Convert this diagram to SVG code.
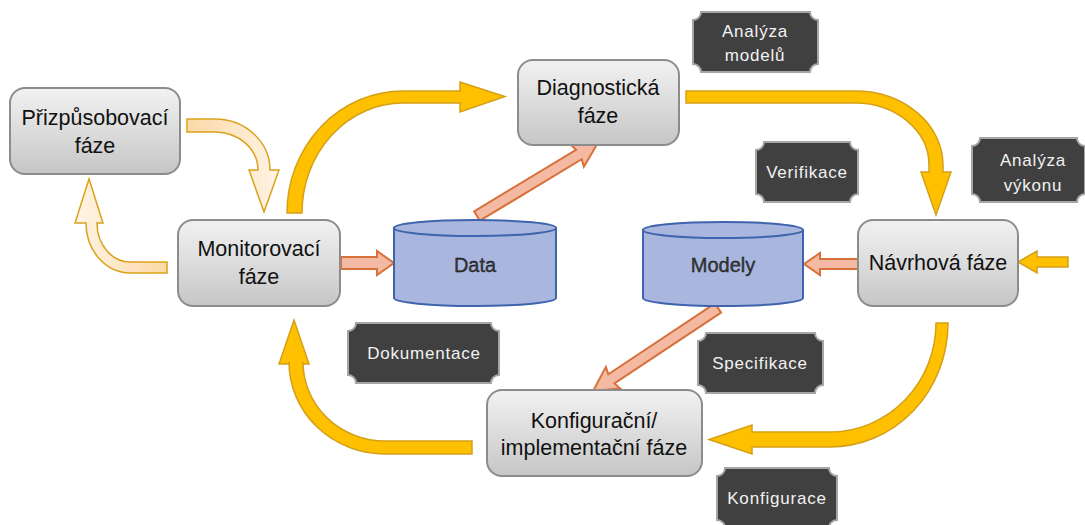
<svg xmlns="http://www.w3.org/2000/svg" width="1085" height="525" viewBox="0 0 1085 525">
<defs>
<linearGradient id="nodeGrad" x1="0" y1="0" x2="0" y2="1">
<stop offset="0" stop-color="#F2F2F2"/>
<stop offset="1" stop-color="#C6C6C6"/>
</linearGradient>
<linearGradient id="paleA" gradientUnits="userSpaceOnUse" x1="187" y1="0" x2="280" y2="0">
<stop offset="0" stop-color="#FCD8A6"/>
<stop offset="1" stop-color="#FFF4E6"/>
</linearGradient>
<linearGradient id="paleB" gradientUnits="userSpaceOnUse" x1="167" y1="0" x2="75" y2="0">
<stop offset="0" stop-color="#FCD8A6"/>
<stop offset="1" stop-color="#FFF4E6"/>
</linearGradient>
</defs>
<style>
.node{fill:url(#nodeGrad);stroke:#8C8C8C;stroke-width:2}
.ntxt{font-family:"Liberation Sans",Arial,sans-serif;font-size:21.5px;fill:#111;text-anchor:middle}
.tag{fill:#404040;stroke:#A6A6A6;stroke-width:2}
.ttxt{font-family:"Liberation Sans",Arial,sans-serif;font-size:17px;fill:#F2F2F2;text-anchor:middle;letter-spacing:0.8px}
.cyl{fill:#A9B6DE;stroke:#3F64AD;stroke-width:2}
.ctxt{font-family:"Liberation Sans",Arial,sans-serif;font-size:20px;fill:#3a3a3a;stroke:#000;stroke-width:0.3;text-anchor:middle}
.gold{fill:#FFC000;stroke:#D4A017;stroke-width:1.5;stroke-linejoin:miter}
.salmon{fill:#F4B9A2;stroke:#D8703A;stroke-width:2}
</style>

<g id="connectors">
<path class="gold" d="M287,213 A116,122 0 0 1 403,91 L460,91 L460,82 L505,96.5 L460,112 L460,103 L403,103 A101,110 0 0 0 302,213 Z"/>
<path class="gold" d="M686,91 L855,91 A88,74 0 0 1 943,165 L943,172 L951,172 L936,215 L921,172 L929,172 L929,165 A74,62 0 0 0 855,103 L686,103 Z"/>
<path class="gold" d="M936,323 L948,323 A118,124 0 0 1 830,447 L752,447 L752,454 L709,439.5 L752,425 L752,432 L830,432 A106,109 0 0 0 936,323 Z"/>
<path class="gold" d="M472,441 L385,441 A82,79 0 0 1 303,362 L303,364 L309,364 L294,320 L279,364 L289,364 L289,362 A96,92 0 0 0 385,454 L472,454 Z"/>
<path class="gold" d="M1068,257 L1037,257 L1037,251 L1018,262 L1037,273 L1037,267 L1068,267 Z"/>
<path fill="url(#paleA)" stroke="#D9A21B" stroke-width="1.5" d="M187,119 L215,119 A55,51 0 0 1 270,170 L279,170 L264,212 L249,170 L258,170 A43,38 0 0 0 215,132 L187,132 Z"/>
<path fill="url(#paleB)" stroke="#D9A21B" stroke-width="1.5" d="M167,262 L130,262 A33,39 0 0 1 97,223 L103,223 L89,179 L75,223 L86,223 A44,50 0 0 0 130,273 L167,273 Z"/>
<path class="salmon" d="M341,257 L377,257 L377,251 L394,263 L377,275 L377,269 L341,269 Z"/>
<path class="salmon" d="M858,259 L820,259 L820,253 L804,264 L820,275 L820,269 L858,269 Z"/>
<path class="salmon" transform="translate(477,216) rotate(-31.1)" d="M0,-5.5 L119,-5.5 L117,-13 L141,0 L117,13 L119,5.5 L0,5.5 Z"/>
<path class="salmon" transform="translate(718,308) rotate(146.4)" d="M0,-5.5 L128,-5.5 L126,-13 L150,0 L126,13 L128,5.5 L0,5.5 Z"/>
</g>

<g id="n-prizpusobovaci">
<rect class="node" x="10" y="88" width="170" height="86" rx="15"/>
<text class="ntxt" x="95" y="125">Přizpůsobovací</text>
<text class="ntxt" x="95" y="153">fáze</text>
</g>
<g id="n-monitorovaci">
<rect class="node" x="178" y="220" width="162" height="86" rx="15"/>
<text class="ntxt" x="259" y="256">Monitorovací</text>
<text class="ntxt" x="259" y="284">fáze</text>
</g>
<g id="n-diagnosticka">
<rect class="node" x="518" y="60" width="161" height="85" rx="15"/>
<text class="ntxt" x="598" y="95">Diagnostická</text>
<text class="ntxt" x="598" y="123">fáze</text>
</g>
<g id="n-navrhova">
<rect class="node" x="858" y="220" width="160" height="86" rx="15"/>
<text class="ntxt" x="938" y="270">Návrhová fáze</text>
</g>
<g id="n-konfiguracni">
<rect class="node" x="487" y="390" width="215" height="86" rx="15"/>
<text class="ntxt" x="594" y="428">Konfigurační/</text>
<text class="ntxt" x="594" y="455">implementační fáze</text>
</g>

<g id="n-data">
<path class="cyl" d="M394,228 V298 A81,8 0 0 0 556,298 V228 Z"/>
<ellipse class="cyl" cx="475" cy="228" rx="81" ry="8"/>
<text class="ctxt" x="475" y="272">Data</text>
</g>
<g id="n-modely">
<path class="cyl" d="M643,230 V298 A80,8 0 0 0 803,298 V230 Z"/>
<ellipse class="cyl" cx="723" cy="230" rx="80" ry="8"/>
<text class="ctxt" x="723" y="272">Modely</text>
</g>

<g id="t-analyza-modelu">
<path class="tag" d="M701,12 L810,12 A8,8 0 0 0 818,20 L818,64 A8,8 0 0 0 810,72 L701,72 A8,8 0 0 0 693,64 L693,20 A8,8 0 0 0 701,12 Z"/>
<text class="ttxt" x="755" y="37">Analýza</text>
<text class="ttxt" x="755" y="61">modelů</text>
</g>
<g id="t-verifikace">
<path class="tag" d="M764,142 L850,142 A8,8 0 0 0 858,150 L858,194 A8,8 0 0 0 850,202 L764,202 A8,8 0 0 0 756,194 L756,150 A8,8 0 0 0 764,142 Z"/>
<text class="ttxt" x="807" y="178">Verifikace</text>
</g>
<g id="t-analyza-vykonu">
<path class="tag" d="M980,138 L1077,138 A8,8 0 0 0 1085,146 L1085,194 A8,8 0 0 0 1077,202 L980,202 A8,8 0 0 0 972,194 L972,146 A8,8 0 0 0 980,138 Z"/>
<text class="ttxt" x="1033" y="166">Analýza</text>
<text class="ttxt" x="1033" y="191">výkonu</text>
</g>
<g id="t-dokumentace">
<path class="tag" d="M356,323 L491,323 A8,8 0 0 0 499,331 L499,375 A8,8 0 0 0 491,383 L356,383 A8,8 0 0 0 348,375 L348,331 A8,8 0 0 0 356,323 Z"/>
<text class="ttxt" x="424" y="359">Dokumentace</text>
</g>
<g id="t-specifikace">
<path class="tag" d="M706,333 L815,333 A8,8 0 0 0 823,341 L823,385 A8,8 0 0 0 815,393 L706,393 A8,8 0 0 0 698,385 L698,341 A8,8 0 0 0 706,333 Z"/>
<text class="ttxt" x="760" y="369">Specifikace</text>
</g>
<g id="t-konfigurace">
<path class="tag" d="M725,468 L829,468 A8,8 0 0 0 837,476 L837,520 A8,8 0 0 0 829,528 L725,528 A8,8 0 0 0 717,520 L717,476 A8,8 0 0 0 725,468 Z"/>
<text class="ttxt" x="777" y="504">Konfigurace</text>
</g>
</svg>
